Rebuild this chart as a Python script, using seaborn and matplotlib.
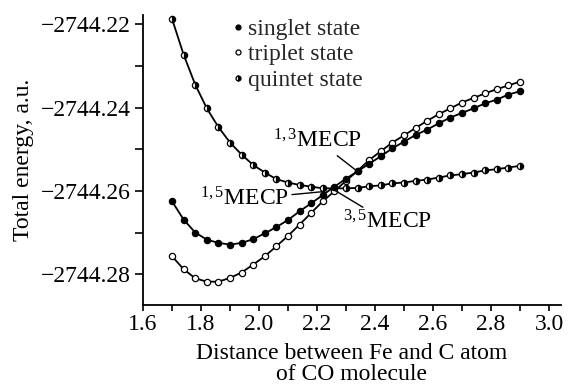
import matplotlib
matplotlib.use("Agg")
import matplotlib.pyplot as plt
from matplotlib.lines import Line2D
from matplotlib.ticker import MultipleLocator, FuncFormatter
import seaborn as sns
import pandas as pd

distance = [1.70, 1.74, 1.78, 1.82, 1.86, 1.90, 1.94, 1.98, 2.02, 2.06, 2.10,
            2.14, 2.18, 2.22, 2.26, 2.30, 2.34, 2.38, 2.42, 2.46, 2.50, 2.54,
            2.58, 2.62, 2.66, 2.70, 2.74, 2.78, 2.82, 2.86, 2.90]

singlet = [-2744.2625, -2744.2669, -2744.2700, -2744.2717, -2744.2725, -2744.2729,
           -2744.2725, -2744.2716, -2744.2702, -2744.2687, -2744.2670, -2744.2649,
           -2744.2630, -2744.2610, -2744.2590, -2744.2571, -2744.2553, -2744.2535,
           -2744.2517, -2744.2498, -2744.2482, -2744.2466, -2744.2453, -2744.2438,
           -2744.2424, -2744.2413, -2744.2402, -2744.2390, -2744.2381, -2744.2369,
           -2744.2361]

triplet = [-2744.2757, -2744.2788, -2744.2810, -2744.2818, -2744.2818, -2744.2809,
           -2744.2796, -2744.2777, -2744.2757, -2744.2733, -2744.2708, -2744.2681,
           -2744.2653, -2744.2625, -2744.2601, -2744.2576, -2744.2552, -2744.2526,
           -2744.2505, -2744.2484, -2744.2467, -2744.2449, -2744.2432, -2744.2416,
           -2744.2402, -2744.2388, -2744.2377, -2744.2366, -2744.2356, -2744.2347,
           -2744.2338]

quintet = [-2744.2187, -2744.2273, -2744.2345, -2744.2402, -2744.2447, -2744.2484,
           -2744.2513, -2744.2538, -2744.2556, -2744.2572, -2744.2580, -2744.2586,
           -2744.2590, -2744.2594, -2744.2594, -2744.2594, -2744.2593, -2744.2589,
           -2744.2587, -2744.2582, -2744.2580, -2744.2576, -2744.2573, -2744.2568,
           -2744.2563, -2744.2560, -2744.2556, -2744.2551, -2744.2548, -2744.2544,
           -2744.2540]

labels = ["singlet state", "triplet state", "quintet state"]

sns.set_theme(style="ticks")
plt.rcParams["font.family"] = ["Liberation Serif", "DejaVu Serif"]
plt.rcParams["mathtext.fontset"] = "custom"
plt.rcParams["mathtext.rm"] = "Liberation Serif"
plt.rcParams["mathtext.it"] = "Liberation Serif:italic"
plt.rcParams["mathtext.bf"] = "Liberation Serif:bold"

FS = 17

df = pd.DataFrame({"d": distance, "s": singlet, "t": triplet, "q": quintet})

fig = plt.figure(figsize=(5.68, 3.90), dpi=100)
ax = fig.add_axes([143 / 568, 1 - 305 / 390, (560.6 - 143) / 568, (305 - 15) / 390])

ms = 4.5
common = dict(color="black", linewidth=1.3, marker="o", markersize=ms,
              markeredgecolor="black", markeredgewidth=0.9)
sns.lineplot(data=df, x="d", y="q", ax=ax, markerfacecolor="black",
             fillstyle="right", markerfacecoloralt="white", **common)
sns.lineplot(data=df, x="d", y="t", ax=ax, markerfacecolor="white", **common)
sns.lineplot(data=df, x="d", y="s", ax=ax, markerfacecolor="black", **common)

ax.set_xlim(1.6, 3.04)
ax.set_ylim(-2744.2874, -2744.2178)
ax.xaxis.set_major_locator(MultipleLocator(0.2))
ax.xaxis.set_minor_locator(MultipleLocator(0.1))
ax.yaxis.set_major_locator(MultipleLocator(0.02))
ax.yaxis.set_minor_locator(MultipleLocator(0.01))
ax.xaxis.set_major_formatter(FuncFormatter(lambda v, p: f"{v:.1f}"))
ax.yaxis.set_major_formatter(FuncFormatter(lambda v, p: f"\u2212{abs(v):.2f}"))
ax.tick_params(axis="both", which="both", direction="out", width=1.2,
               color="black", labelsize=FS, labelcolor="black")
ax.tick_params(axis="y", which="both", length=5.5, pad=3)
ax.tick_params(axis="x", which="both", length=4.5, pad=2)
for side in ["left", "bottom"]:
    ax.spines[side].set_linewidth(1.3)
    ax.spines[side].set_color("black")
sns.despine(ax=ax)

ax.set_xlabel("Distance between Fe and C atom\nof CO molecule", fontsize=FS,
              color="black", labelpad=6, linespacing=1.0)
ax.set_ylabel("Total energy, a.u.", fontsize=FS, color="black", labelpad=5)

handles = [
    Line2D([], [], linestyle="none", marker="o", markersize=3.6, color="black",
           markerfacecolor="black", markeredgewidth=0.9),
    Line2D([], [], linestyle="none", marker="o", markersize=3.6, color="black",
           markerfacecolor="white", markeredgewidth=0.9),
    Line2D([], [], linestyle="none", marker="o", markersize=3.6, color="black",
           markerfacecolor="black", fillstyle="right", markerfacecoloralt="white",
           markeredgewidth=0.9),
]
leg = ax.legend(handles, labels, loc="upper left", bbox_to_anchor=(0.19, 1.02),
                frameon=False, fontsize=FS, handlelength=0.5, handletextpad=0.2,
                labelspacing=0.16, borderaxespad=0.0)

ann_kw = dict(fontsize=FS, color="black",
              arrowprops=dict(arrowstyle="-", color="black", lw=1.0,
                              shrinkA=0, shrinkB=0))
ax.annotate(r"$\mathregular{^{1,3}}$MECP", xy=(2.337, -2744.2552),
            xytext=(2.05, -2744.2480), ha="left", va="center", **ann_kw)
ax.annotate(r"$\mathregular{^{1,5}}$MECP", xy=(2.22, -2744.2602),
            xytext=(1.795, -2744.2620), ha="left", va="center", **ann_kw)
ax.annotate(r"$\mathregular{^{3,5}}$MECP", xy=(2.257, -2744.2597),
            xytext=(2.29, -2744.2675), ha="left", va="center", **ann_kw)

fig.savefig("out.png", dpi=100)
